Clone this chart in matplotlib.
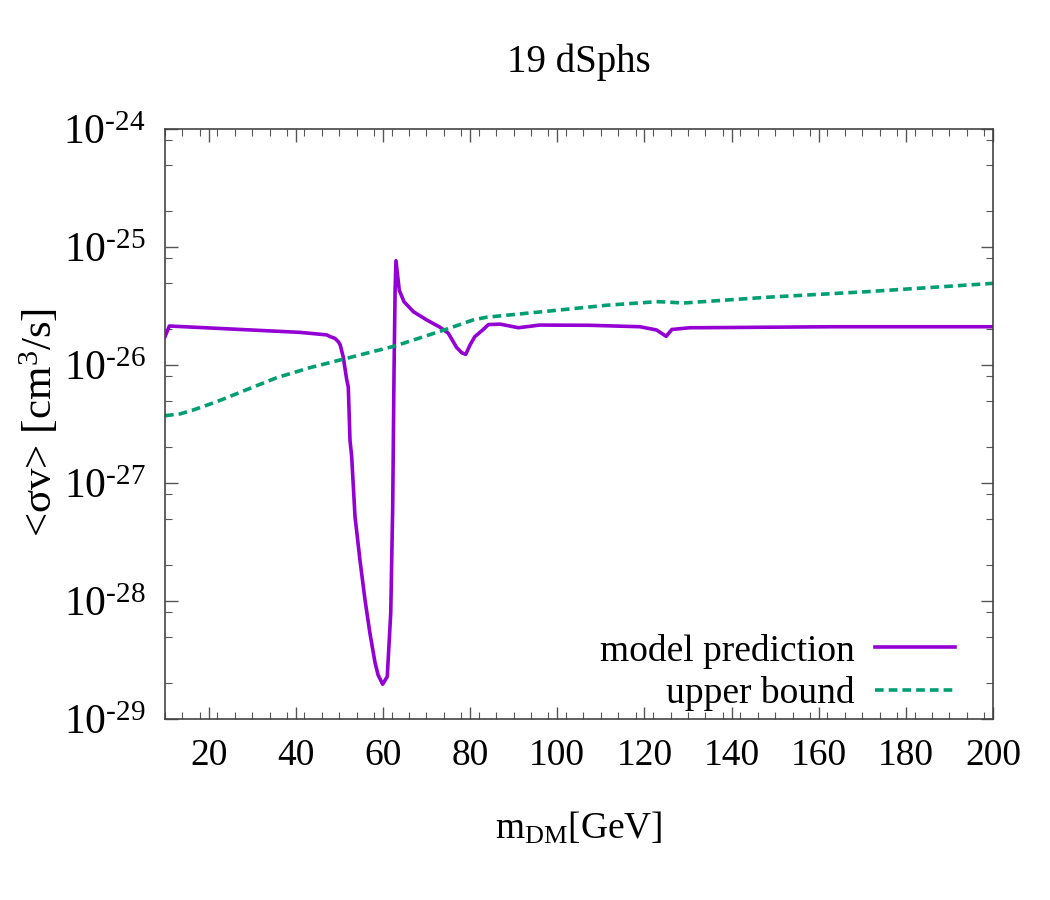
import numpy as np
import matplotlib
matplotlib.use("Agg")
import matplotlib.pyplot as plt
from matplotlib.ticker import FixedLocator, NullFormatter

plt.rcParams['font.family'] = ['Liberation Serif', 'DejaVu Serif']
plt.rcParams['mathtext.fontset'] = 'custom'
plt.rcParams['mathtext.rm'] = 'Liberation Serif'
plt.rcParams['mathtext.it'] = 'Liberation Serif:italic'

# model prediction
model_m = [10, 11, 41, 47.1, 47.9, 49.0, 49.8, 50.2, 50.9, 51.7, 52.06, 52.45, 52.84,
           53.6, 54.75, 55.9, 57.0, 58.2, 58.9, 59.95, 61.0, 61.8, 62.25, 62.55, 62.8,
           63.0, 63.76, 64.84, 67.0, 70.05, 73.1, 75.0, 76.9, 78.1, 79.0, 80.0, 81.1,
           82.9, 84.2, 86.9, 91.1, 96.0, 107.5, 119.0, 122.8, 125.0, 126.3, 130.5,
           132.8, 163.3, 200]
model_sv = [1.74e-26, 2.14e-26, 1.89e-26, 1.80e-26, 1.74e-26, 1.68e-26, 1.57e-26, 1.48e-26,
            1.17e-26, 7.5e-27, 6.5e-27, 2.3e-27, 1.67e-27, 5.2e-28, 2.2e-28, 1.02e-28,
            5.4e-29, 3.0e-29, 2.36e-29, 1.97e-29, 2.29e-29, 7.9e-29, 6.3e-28, 8.55e-27,
            4.3e-26, 7.65e-26, 4.3e-26, 3.44e-26, 2.83e-26, 2.41e-26, 2.09e-26, 1.86e-26,
            1.41e-26, 1.27e-26, 1.23e-26, 1.48e-26, 1.74e-26, 1.98e-26, 2.2e-26, 2.22e-26,
            2.07e-26, 2.18e-26, 2.17e-26, 2.11e-26, 1.98e-26, 1.75e-26, 2.0e-26, 2.07e-26,
            2.07e-26, 2.11e-26, 2.11e-26]

# upper bound
bound_m = [10, 13.44, 16.5, 21.9, 27.97, 35.6, 43.3, 50.9, 62.8, 74.6, 80.7, 83.8, 98.3,
           111.4, 122.8, 125.1, 128.9, 148.1, 171.0, 200]
bound_sv = [3.72e-27, 3.85e-27, 4.16e-27, 4.89e-27, 6.02e-27, 7.8e-27, 9.5e-27, 1.12e-26,
            1.45e-26, 2.01e-26, 2.41e-26, 2.54e-26, 2.87e-26, 3.21e-26, 3.44e-26, 3.42e-26,
            3.35e-26, 3.75e-26, 4.18e-26, 4.92e-26]

x_ticks = [20, 40, 60, 80, 100, 120, 140, 160, 180, 200]
y_exps = [-29, -28, -27, -26, -25, -24]

fig = plt.figure(figsize=(10.5, 9), dpi=100)
ax = fig.add_axes([165 / 1050, 1 - 719 / 900, 828 / 1050, 590 / 900])

ax.plot(model_m, model_sv, color='#9400D3', lw=2.6, label='model prediction')
ax.plot(bound_m, bound_sv, color='#009E73', lw=2.6, dashes=(2.4, 1.4), label='upper bound')

ax.set_yscale('log')
ax.set_xlim(10, 200)
ax.set_ylim(1e-29, 1e-24)

ax.xaxis.set_major_locator(FixedLocator(x_ticks))
ax.xaxis.set_minor_locator(FixedLocator(np.arange(10, 201, 4)))
y_minor = [s * 10.0 ** e for e in y_exps[:-1] for s in (2, 5, 8)]
ax.yaxis.set_major_locator(FixedLocator([10.0 ** e for e in y_exps]))
ax.yaxis.set_minor_locator(FixedLocator(y_minor))
ax.yaxis.set_minor_formatter(NullFormatter())
ax.set_yticklabels([r'$10^{\text{-%d}}$' % abs(e) for e in y_exps])

ax.tick_params(which='both', direction='in', top=True, right=True, colors='#555555',
               labelcolor='black')
ax.tick_params(axis='x', labelsize=27)
ax.tick_params(axis='y', labelsize=30)
ax.tick_params(which='major', length=9, width=1, pad=14)
ax.tick_params(which='minor', length=5, width=0.8)
for s in ax.spines.values():
    s.set_color('#444444')
    s.set_linewidth(1.2)

fig.text(579 / 1050, 1 - 62 / 900, '19 dSphs', ha='center', va='center', fontsize=28)
fig.text(40 / 1050, 1 - 423 / 900, r'<σv> [cm$^3$/s]', ha='center', va='center',
         rotation=90, fontsize=31)
fig.text(579 / 1050, 1 - 828 / 900, r'm$_{\rm DM}$[GeV]', ha='center', va='center', fontsize=27)

ax.legend(loc='lower right', bbox_to_anchor=(0.972, -0.012), frameon=False, markerfirst=False,
          fontsize=27, handlelength=2.13, handletextpad=0.53, labelspacing=0.2,
          borderaxespad=0)

fig.savefig('out.png', dpi=100)
